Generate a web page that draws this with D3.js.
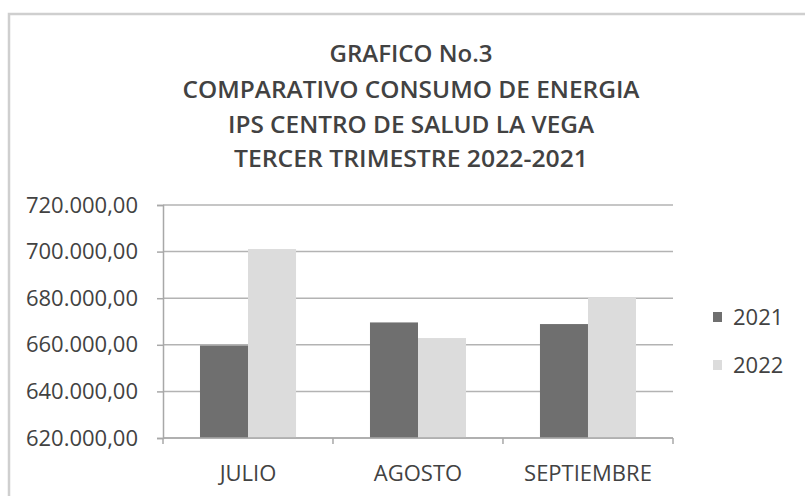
<!DOCTYPE html>
<html><head><meta charset="utf-8">
<script src="https://cdn.jsdelivr.net/npm/d3@7"></script>
<style>html,body{margin:0;padding:0;background:#fff;}</style>
</head><body>
<svg id="c" width="805" height="496"></svg>
<script>
const titleLines = ["GRAFICO No.3","COMPARATIVO CONSUMO DE ENERGIA","IPS CENTRO DE SALUD LA VEGA","TERCER TRIMESTRE 2022-2021"];
const categories = ["JULIO","AGOSTO","SEPTIEMBRE"];
const seriesNames = ["2021","2022"];
const values2021 = [659700, 669600, 668900];
const values2022 = [701100, 662900, 680200];
const yTicks = [620000, 640000, 660000, 680000, 700000, 720000];

const svg = d3.select("#c");
const font = "'Open Sans', sans-serif";
const textColor = "#424242";
const colors = {"2021":"#6f6f6f","2022":"#dcdcdc"};

// outer frame
svg.append("rect").attr("x",9).attr("y",14).attr("width",900).attr("height",600)
  .attr("fill","none").attr("stroke","#cfcfcf").attr("stroke-width",2.5);

// title
const titleY = [62, 98, 133, 167];
const titleW = [163, 457, 366, 354];
titleLines.forEach((t,i)=>{
  svg.append("text").attr("x",411).attr("y",titleY[i]).attr("text-anchor","middle")
    .attr("font-family",font).attr("font-size",23).attr("font-weight",600)
    .attr("fill",textColor).attr("textLength",titleW[i]).attr("lengthAdjust","spacingAndGlyphs")
    .text(t);
});

const L=163, R=673, T=205, B=438;
const y = d3.scaleLinear().domain([620000,720000]).range([B,T]);
const x = d3.scaleBand().domain(categories).range([L,R]).paddingInner(0.435).paddingOuter(0.2176);
const xs = d3.scaleBand().domain(seriesNames).range([0,x.bandwidth()]);

const fmt = v => d3.format(",.2f")(v).replace(/,/g,"#").replace(/\./g,",").replace(/#/g,".");

// gridlines
svg.append("g").selectAll("line").data(yTicks).join("line")
  .attr("x1",L).attr("x2",R).attr("y1",d=>y(d)).attr("y2",d=>y(d))
  .attr("stroke","#b3b3b3").attr("stroke-width",1.5);

// bars
const data = categories.map((c,i)=>({cat:c, vals:[{s:"2021",v:values2021[i]},{s:"2022",v:values2022[i]}]}));
const g = svg.append("g").selectAll("g").data(data).join("g")
  .attr("transform",d=>`translate(${x(d.cat)},0)`);
g.selectAll("rect").data(d=>d.vals).join("rect")
  .attr("x",d=>xs(d.s)).attr("width",xs.bandwidth())
  .attr("y",d=>y(d.v)).attr("height",d=>B-y(d.v))
  .attr("fill",d=>colors[d.s]);

// y axis
const yAxis = svg.append("g").attr("transform",`translate(${L},0)`)
  .call(d3.axisLeft(y).tickValues(yTicks).tickFormat(fmt).tickSize(6).tickPadding(19));
yAxis.select(".domain").attr("stroke","#a8a8a8").attr("stroke-width",1.5);
yAxis.selectAll(".tick line").attr("stroke","#a8a8a8").attr("stroke-width",1.5);
yAxis.selectAll("text").attr("font-family",font).attr("font-size",22).attr("fill",textColor);

// x axis
const step = x.step();
const bounds = [L, L+step, L+2*step, R];
svg.append("line").attr("x1",L).attr("x2",R).attr("y1",B).attr("y2",B)
  .attr("stroke","#a8a8a8").attr("stroke-width",1.5);
svg.append("g").selectAll("line").data(bounds).join("line")
  .attr("x1",d=>d).attr("x2",d=>d).attr("y1",B).attr("y2",B+6)
  .attr("stroke","#a8a8a8").attr("stroke-width",1.5);
svg.append("g").selectAll("text").data(categories).join("text")
  .attr("x",d=>x(d)+x.bandwidth()/2).attr("y",481).attr("text-anchor","middle")
  .attr("font-family",font).attr("font-size",22).attr("fill",textColor).text(d=>d);

// legend
const leg = svg.append("g").selectAll("g").data(seriesNames).join("g")
  .attr("transform",(d,i)=>`translate(713,${312+i*48})`);
leg.append("rect").attr("width",9).attr("height",10).attr("fill",d=>colors[d]);
leg.append("text").attr("x",20).attr("y",13).attr("font-family",font).attr("font-size",22)
  .attr("fill",textColor).text(d=>d);
</script>
</body></html>
